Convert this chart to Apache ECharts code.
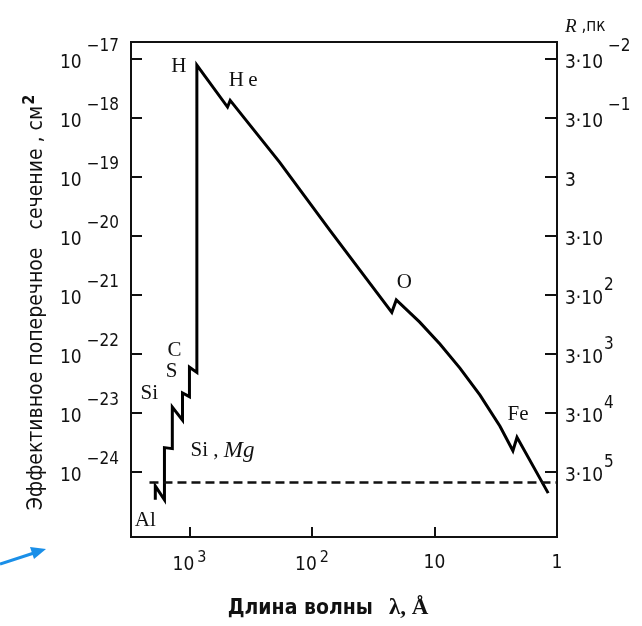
<!DOCTYPE html>
<html>
<head>
<meta charset="utf-8">
<script src="https://cdn.jsdelivr.net/npm/echarts@6/dist/echarts.min.js"></script>
<style>
  html, body { margin: 0; padding: 0; background: #fff; }
  #chart { width: 642px; height: 626px; }
</style>
</head>
<body>
<div id="chart"></div>
<script>
// Effective photoionization cross-section versus wavelength (Å),
// with the absorption edges of H, He, O, Fe and the heavier light elements.
const wavelength = [1900, 1900, 1600, 1600, 1380, 1380, 1140, 1140, 1000, 1000, 870, 870,
                    489, 465, 184, 71.6, 22.3, 20.5, 13.2, 9.03, 6.20, 4.25, 2.92, 2.29, 2.12, 1.18];
const crossSection = [3.4e-25, 5.8e-25, 3.4e-25, 2.6e-24, 2.5e-24, 1.26e-23, 7.6e-24, 2.2e-23,
                      1.9e-23, 6.0e-23, 4.9e-23, 7.9e-18, 1.54e-18, 2.0e-18, 1.8e-19, 1.26e-20,
                      5.1e-22, 8.3e-22, 3.48e-22, 1.48e-22, 5.8e-23, 2.02e-23, 6.0e-24, 2.3e-24,
                      3.9e-24, 4.4e-25];

// Edge names and the point of the curve each one belongs to
const edgeNames = ['Al', 'Si , {i|Mg}', 'Si', 'S', 'C', 'H', 'H\u2009e', 'O', 'Fe'];
const edgePoint = [0, 3, 5, 7, 9, 11, 13, 17, 24];

// Tick values of the axes
const xTicks = [1000, 100, 10, 1];
const yTicks = [1e-17, 1e-18, 1e-19, 1e-20, 1e-21, 1e-22, 1e-23, 1e-24];

// Dashed reference level
const dashLevel = 6.8e-25;
const dashFrom = 2120;
const dashTo = 1;

// Axis ranges
const xMin = 1, xMax = 3000;
const yMin = Math.pow(10, -25.1), yMax = Math.pow(10, -16.71);

const numFont = "'DejaVu Sans Condensed', 'DejaVu Sans', sans-serif";
const serifFont = "'Liberation Serif', 'DejaVu Serif', serif";
const ink = '#111';

const labelOffsets = [[-10, 21], [58, 3], [-23, -14], [-11, -21], [-15, -17], [-18, 1], [13, -20], [8, -17], [1, -23]];

function expOf(v) { return Math.round(Math.log10(v)); }
function minus(n) { return n < 0 ? '\u2212' + (-n) : String(n); }

const powRich = {
  b: { fontFamily: numFont, fontSize: 19, color: ink, padding: [8, 0, 0, 0] },
  s: { fontFamily: numFont, fontSize: 17, color: ink, padding: [0, 0, 26, 5] },
  p: { fontFamily: numFont, fontSize: 17, color: ink, padding: [0, 0, 20, 1] }
};
const xRich = {
  b: { fontFamily: numFont, fontSize: 19, color: ink, padding: [4, 0, 0, 0] },
  s: { fontFamily: numFont, fontSize: 16, color: ink, padding: [0, 0, 10, 3] }
};

const chart = echarts.init(document.getElementById('chart'));
chart.setOption({
  animation: false,
  backgroundColor: '#fff',
  grid: { left: 131, right: 85, top: 42, bottom: 89, show: true, borderColor: ink, borderWidth: 2, backgroundColor: 'transparent' },
  xAxis: {
    type: 'log', min: xMin, max: xMax, inverse: true,
    axisLine: { show: true, lineStyle: { color: ink, width: 2 } },
    axisTick: { show: true, inside: true, length: 10, customValues: xTicks, lineStyle: { color: ink, width: 2 } },
    splitLine: { show: false },
    axisLabel: {
      margin: 13, customValues: xTicks,
      formatter: function (v) {
        const e = expOf(v);
        if (e === 0) return '{b|1}';
        if (e === 1) return '{b|10}';
        return '{b|10}{s|' + e + '}';
      },
      rich: xRich
    },
    name: '{t|Длина волны}{g|λ, Å}',
    nameLocation: 'middle', nameGap: 60,
    nameTextStyle: {
      padding: [0, 32, 0, 0],
      rich: {
        t: { fontFamily: numFont, fontSize: 21, color: ink, fontWeight: 'bold' },
        g: { fontFamily: serifFont, fontSize: 23, color: ink, fontWeight: 'bold', padding: [0, 0, 0, 16] }
      }
    }
  },
  yAxis: [{
    type: 'log', min: yMin, max: yMax, position: 'left',
    axisLine: { show: true, lineStyle: { color: ink, width: 2 } },
    axisTick: { show: true, inside: true, length: 11, customValues: yTicks, lineStyle: { color: ink, width: 2 } },
    splitLine: { show: false },
    axisLabel: {
      margin: 12, customValues: yTicks,
      formatter: function (v) { return '{b|10}{s|' + minus(expOf(v)) + '}'; },
      rich: powRich
    },
    name: 'Эффективное поперечное   сечение , см{q|2}',
    nameLocation: 'middle', nameGap: 80, nameRotate: 90,
    nameTextStyle: {
      fontFamily: numFont, fontSize: 21, color: ink, padding: [0, 26, 0, 0],
      rich: { q: { fontFamily: numFont, fontSize: 16, color: ink, fontWeight: 'bold', padding: [0, 0, 13, 1] } }
    }
  }, {
    type: 'log', min: yMin, max: yMax, position: 'right',
    axisLine: { show: true, lineStyle: { color: ink, width: 2 } },
    axisTick: { show: true, inside: true, length: 12, customValues: yTicks, lineStyle: { color: ink, width: 2 } },
    splitLine: { show: false },
    axisLabel: {
      margin: 8, customValues: yTicks,
      formatter: function (v) {
        // distance scale: R = 3·10^(-19) / σ  (pc)
        const k = -19 - expOf(v);
        if (k === 0) return '{b|3}';
        if (k === 1) return '{b|3·10}';
        if (k > 1) return '{b|3·10}{p|' + k + '}';
        return '{b|3·10}{s|' + minus(k) + '}';
      },
      rich: powRich
    },
    name: '{r|R}{p| ,пк}',
    nameLocation: 'end', nameGap: 6,
    nameTextStyle: {
      align: 'left', padding: [0, 0, 0, 8],
      rich: {
        r: { fontFamily: serifFont, fontStyle: 'italic', fontSize: 19, color: ink },
        p: { fontFamily: numFont, fontSize: 17, color: ink }
      }
    }
  }],
  series: [{
    type: 'line',
    data: wavelength.map(function (w, i) { return [w, crossSection[i]]; }),
    showSymbol: false, symbol: 'none',
    lineStyle: { color: '#000', width: 3, join: 'miter' },
    markLine: {
      silent: true, symbol: 'none', label: { show: false },
      lineStyle: { color: ink, width: 2.5, type: [9, 5] },
      data: [[{ coord: [dashFrom, dashLevel] }, { coord: [dashTo, dashLevel] }]]
    },
    markPoint: {
      silent: true, symbol: 'circle', symbolSize: 1,
      itemStyle: { color: 'rgba(0,0,0,0)' },
      data: edgeNames.map(function (n, j) {
        const i = edgePoint[j];
        return {
          coord: [wavelength[i], crossSection[i]],
          label: {
            show: true, position: 'inside', offset: labelOffsets[j],
            formatter: n, fontFamily: serifFont, fontSize: 21, color: ink,
            rich: { i: { fontFamily: serifFont, fontSize: 23, fontStyle: 'italic', color: ink } }
          }
        };
      })
    }
  }],
  graphic: [{
    type: 'group', silent: true,
    children: [
      { type: 'line', shape: { x1: 0, y1: 564, x2: 34, y2: 553 }, style: { stroke: '#1a8fe8', lineWidth: 3 } },
      { type: 'polygon', shape: { points: [[46, 549], [34, 559], [30, 547]] }, style: { fill: '#1a8fe8' } }
    ]
  }]
});
</script>
</body>
</html>
